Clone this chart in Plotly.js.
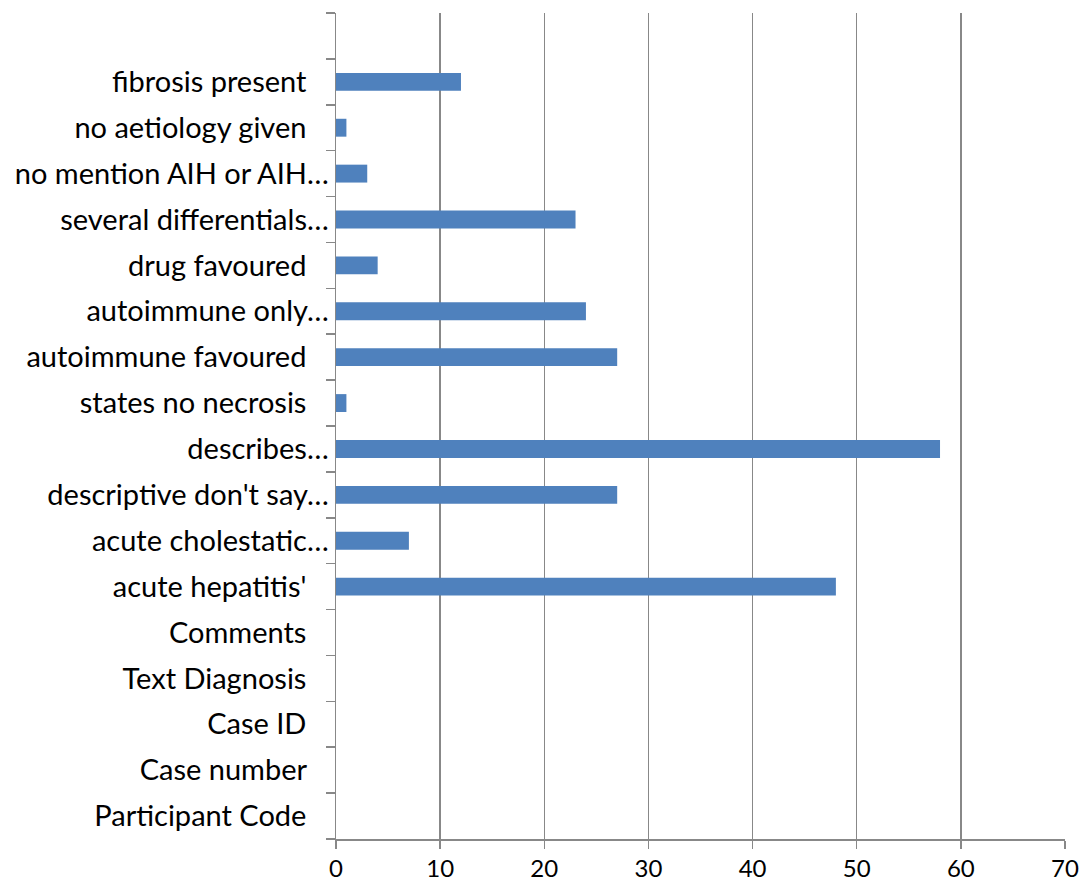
<!DOCTYPE html>
<html>
<head>
<meta charset="utf-8">
<script src="https://cdn.plot.ly/plotly-3.0.1.min.js"></script>
<style>html,body{margin:0;padding:0;background:#fff;}#chart{width:1080px;height:884px;}</style>
</head>
<body>
<div id="chart"></div>
<script>
// categories from bottom to top
const categories = [
  "Participant Code",
  "Case number",
  "Case ID",
  "Text Diagnosis",
  "Comments",
  "acute hepatitis'",
  "acute cholestatic…",
  "descriptive don't say…",
  "describes…",
  "states no necrosis",
  "autoimmune favoured",
  "autoimmune only…",
  "drug favoured",
  "several differentials…",
  "no mention AIH or AIH…",
  "no aetiology given",
  "fibrosis present",
  ""
];
const values = [null, null, null, null, null, 48, 7, 27, 58, 1, 27, 24, 4, 23, 3, 1, 12, null];
const padded = new Set(["Participant Code","Case number","Case ID","Text Diagnosis","Comments","acute hepatitis'","states no necrosis","autoimmune favoured","drug favoured","no aetiology given","fibrosis present"]);
const ids = categories.map((c, i) => "c" + i);
const tickText = categories.map(c => padded.has(c) ? c + "\u00A0\u00A0\u00A0" : c);
const xTicks = [0, 10, 20, 30, 40, 50, 60, 70];

const trace = {
  type: "bar",
  orientation: "h",
  y: ids,
  x: values,
  marker: {color: "#4F81BD"},
  hoverinfo: "x"
};

const layout = {
  width: 1080,
  height: 884,
  margin: {l: 336, r: 15, t: 13, b: 45, pad: 0},
  paper_bgcolor: "#ffffff",
  plot_bgcolor: "#ffffff",
  bargap: 0.61,
  showlegend: false,
  font: {family: "Lato, 'Open Sans', sans-serif", size: 29, color: "#000000"},
  xaxis: {
    range: [0, 70],
    tickvals: xTicks,
    ticktext: xTicks.map(String),
    showgrid: true,
    gridcolor: "#888888",
    gridwidth: 1.5,
    showline: true,
    linecolor: "#888888",
    linewidth: 1.5,
    ticks: "outside",
    ticklen: 8,
    tickcolor: "#888888",
    tickwidth: 1.5,
    zeroline: false,
    tickfont: {size: 24}
  },
  yaxis: {
    type: "category",
    categoryorder: "array",
    categoryarray: ids,
    tickvals: ids,
    ticktext: tickText,
    tickson: "boundaries",
    ticks: "outside",
    ticklen: 9,
    tickcolor: "#888888",
    tickwidth: 1.5,
    showline: true,
    linecolor: "#888888",
    linewidth: 1.5,
    showgrid: false,
    zeroline: false,
    range: [-0.5, 17.5],
    tickfont: {size: 29}
  }
};

Plotly.newPlot("chart", [trace], layout, {displayModeBar: false, staticPlot: true});
</script>
</body>
</html>
